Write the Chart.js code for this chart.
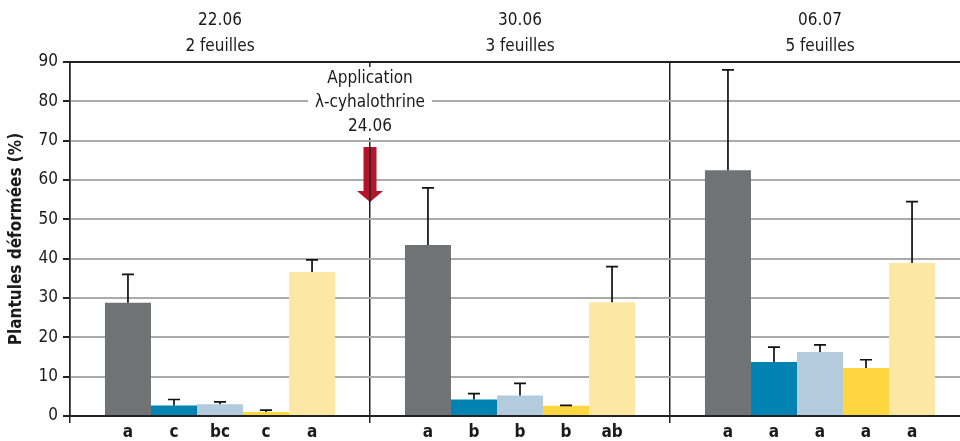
<!DOCTYPE html>
<html>
<head>
<meta charset="utf-8">
<script src="https://cdn.jsdelivr.net/npm/chart.js@4/dist/chart.umd.min.js"></script>
<style>
  html, body { margin: 0; padding: 0; background: #fff; overflow: hidden; }
  #wrap { width: 970px; height: 441px; }
</style>
</head>
<body>
<div id="wrap"><canvas id="c" width="970" height="441"></canvas></div>
<script>
// Sampling dates and growth stages
const dates = ['22.06', '30.06', '06.07'];
const stages = ['2 feuilles', '3 feuilles', '5 feuilles'];

// Deformed seedlings (%) per treatment, one value per date
const t1 = [28.8, 43.5, 62.5];
const t2 = [2.7, 4.2, 13.7];
const t3 = [3.0, 5.2, 16.3];
const t4 = [1.0, 2.6, 12.2];
const t5 = [36.6, 28.9, 38.9];

// Upper error (standard error) per treatment
const e1 = [7.2, 14.5, 25.5];
const e2 = [1.5, 1.5, 3.8];
const e3 = [0.6, 3.1, 1.8];
const e4 = [0.5, 0.1, 2.1];
const e5 = [3.1, 9.1, 15.6];

// Significance letters per treatment
const l1 = ['a', 'a', 'a'];
const l2 = ['c', 'b', 'a'];
const l3 = ['bc', 'b', 'a'];
const l4 = ['c', 'b', 'a'];
const l5 = ['a', 'ab', 'a'];

// Y axis range
const yMin = 0, yMax = 90, yStep = 5, yLabelStep = 10;

// Insecticide application marker
const applicationText = ['Application', 'λ-cyhalothrine', '24.06'];
const arrowFrom = 68.4;
const arrowTo = 54.4;

const colors = ['#717274', '#0083b0', '#b3cbdd', '#fed640', '#fde8a3'];
const FONT = '"Liberation Sans Narrow", "DejaVu Sans Condensed", "Arial Narrow", sans-serif';
const TXT = '#1a1a1a';

const series = [t1, t2, t3, t4, t5];
const errors = [e1, e2, e3, e4, e5];
const letters = [l1, l2, l3, l4, l5];

const errorBars = {
  id: 'errorBars',
  afterDatasetsDraw(chart) {
    const ctx = chart.ctx;
    const ys = chart.scales.y;
    ctx.save();
    ctx.strokeStyle = '#111';
    ctx.lineWidth = 1.7;
    chart.data.datasets.forEach((ds, i) => {
      const meta = chart.getDatasetMeta(i);
      meta.data.forEach((bar, j) => {
        const top = ys.getPixelForValue(ds.data[j] + errors[i][j]);
        ctx.beginPath();
        ctx.moveTo(bar.x, bar.y);
        ctx.lineTo(bar.x, top);
        ctx.moveTo(bar.x - 6, top);
        ctx.lineTo(bar.x + 6, top);
        ctx.stroke();
      });
    });
    ctx.restore();
  }
};

// Significance letters under the bars and date/stage headers above each group
const textLabels = {
  id: 'textLabels',
  afterDraw(chart) {
    const ctx = chart.ctx;
    const area = chart.chartArea;
    const xs = chart.scales.x;
    ctx.save();
    ctx.fillStyle = TXT;
    ctx.textAlign = 'center';
    ctx.textBaseline = 'middle';
    ctx.font = 'bold 17px ' + FONT;
    chart.data.datasets.forEach((ds, i) => {
      chart.getDatasetMeta(i).data.forEach((bar, j) => {
        ctx.fillText(letters[i][j], bar.x, area.bottom + 17);
      });
    });
    ctx.font = '17px ' + FONT;
    dates.forEach((d, j) => {
      const cx = xs.getPixelForTick(j);
      ctx.fillText(d, cx, area.top - 41);
      ctx.fillText(stages[j], cx, area.top - 15);
    });
    ctx.restore();
  }
};

const application = {
  id: 'application',
  beforeDatasetsDraw(chart) {
    const ctx = chart.ctx;
    const xs = chart.scales.x;
    const ys = chart.scales.y;
    const area = chart.chartArea;
    const x = (xs.getPixelForTick(0) + xs.getPixelForTick(1)) / 2;
    ctx.save();
    ctx.font = '17px ' + FONT;
    const w = Math.max(...applicationText.map(t => ctx.measureText(t).width)) + 14;
    const firstY = area.top + 17;
    const lh = 24;
    // white box hiding the grid behind the text
    ctx.fillStyle = '#fff';
    ctx.fillRect(x - w / 2, area.top + 5, w, firstY + lh * (applicationText.length - 1) + 11 - (area.top + 5));
    ctx.fillStyle = TXT;
    ctx.textAlign = 'center';
    ctx.textBaseline = 'middle';
    applicationText.forEach((t, k) => ctx.fillText(t, x, firstY + k * lh));
    // arrow
    const yTop = ys.getPixelForValue(arrowFrom);
    const yTip = ys.getPixelForValue(arrowTo);
    const headLen = 11;
    ctx.fillStyle = '#b5152b';
    ctx.beginPath();
    ctx.moveTo(x - 6.5, yTop);
    ctx.lineTo(x + 6.5, yTop);
    ctx.lineTo(x + 6.5, yTip - headLen);
    ctx.lineTo(x + 13, yTip - headLen);
    ctx.lineTo(x, yTip);
    ctx.lineTo(x - 13, yTip - headLen);
    ctx.lineTo(x - 6.5, yTip - headLen);
    ctx.closePath();
    ctx.fill();
    // divider passing through the arrow
    ctx.strokeStyle = '#222';
    ctx.lineWidth = 1.5;
    ctx.beginPath();
    ctx.moveTo(x, yTop);
    ctx.lineTo(x, yTip);
    ctx.stroke();
    ctx.restore();
  }
};

new Chart(document.getElementById('c'), {
  type: 'bar',
  data: {
    labels: dates,
    datasets: series.map((s, i) => ({
      label: 'T' + (i + 1),
      data: s,
      backgroundColor: colors[i],
      borderWidth: 0,
      barPercentage: 1,
      categoryPercentage: 0.767
    }))
  },
  options: {
    responsive: false,
    animation: false,
    devicePixelRatio: 1,
    layout: { padding: { top: 54, bottom: 18, left: 0, right: 0 } },
    plugins: { legend: { display: false }, tooltip: { enabled: false } },
    scales: {
      x: {
        position: 'bottom',
        offset: true,
        ticks: { display: false },
        grid: { offset: true, color: '#222', lineWidth: 1.5, tickLength: 7, tickColor: '#222' },
        border: { color: '#222', width: 2 }
      },
      xTop: {
        type: 'category',
        position: 'top',
        offset: true,
        labels: dates,
        ticks: { display: false },
        grid: { display: false },
        border: { color: '#222', width: 2 }
      },
      y: {
        min: yMin,
        max: yMax,
        afterFit(scale) { scale.width = 70; },
        ticks: {
          stepSize: yStep,
          color: TXT,
          padding: 5,
          font: { family: FONT, size: 17 },
          callback: v => (v % yLabelStep === 0 ? v : '')
        },
        grid: {
          color: ctx => (ctx.tick && (ctx.tick.value === yMin || ctx.tick.value === yMax) ? '#222' : '#ababab'),
          lineWidth: 2,
          tickLength: 7,
          tickColor: ctx => (ctx.tick && ctx.tick.value % yLabelStep === 0 ? '#222' : 'rgba(0,0,0,0)')
        },
        border: { color: '#222', width: 1.5 },
        title: {
          display: true,
          text: 'Plantules déformées (%)',
          color: TXT,
          font: { family: FONT, size: 17, weight: 'bold' },
          padding: { top: 6, bottom: 0 }
        }
      }
    }
  },
  plugins: [application, errorBars, textLabels]
});
</script>
</body>
</html>
